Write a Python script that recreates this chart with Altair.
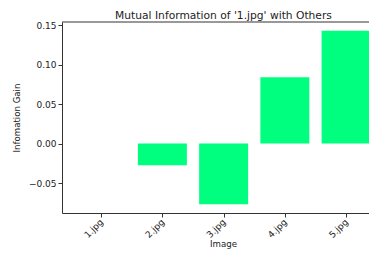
import altair as alt
import pandas as pd

categories = ["1.jpg", "2.jpg", "3.jpg", "4.jpg", "5.jpg"]
values = [0.0, -0.0275, -0.077, 0.0840, 0.1428]

df = pd.DataFrame({"image": categories, "gain": values, "idx": list(range(len(categories)))})

W, H = 315, 191
XDOM = [-0.64, 4.505]
YDOM = [-0.088, 0.154]
FONT = "DejaVu Sans"

label_expr = "[" + ",".join("'%s'" % c for c in categories) + "][datum.value]"

base = alt.Chart(df)

bars = base.mark_bar(color="#00FF7F", clip=True).transform_calculate(
    x0="datum.idx - 0.4", x1="datum.idx + 0.4"
).encode(
    x=alt.X("x0:Q", scale=alt.Scale(domain=XDOM, nice=False, zero=False),
            axis=alt.Axis(values=list(range(len(categories))), labelExpr=label_expr,
                          labelAngle=-45, labelAlign="right", labelBaseline="middle",
                          title="Image", grid=False, tickSize=4, labelPadding=3,
                          titleX=161, titlePadding=0)),
    x2="x1:Q",
    y=alt.Y("gain:Q", scale=alt.Scale(domain=YDOM, nice=False, zero=False),
            axis=alt.Axis(values=[-0.05, 0.0, 0.05, 0.10, 0.15], format=".2f",
                          title="Infomation Gain", grid=False, tickSize=4,
                          labelPadding=2, titlePadding=7)),
    y2=alt.datum(0),
)

top = base.mark_rule(color="#333", strokeWidth=1).encode(
    x=alt.value(0), x2=alt.value(W), y=alt.value(0)
).transform_filter("datum.idx == 0")

chart = alt.layer(bars, top).properties(
    width=W, height=H,
    title=alt.TitleParams("Mutual Information of '1.jpg' with Others", font=FONT,
                          fontSize=10.7, fontWeight="normal", color="#222", dx=4, offset=-1),
    autosize="none",
    padding={"left": 54, "top": 14, "right": -8, "bottom": 36},
).configure_view(stroke=None).configure_axis(
    labelFont=FONT, titleFont=FONT, labelFontSize=9, titleFontSize=8.6,
    labelColor="#222", titleColor="#222", domainColor="#333", tickColor="#333",
    titleFontWeight="normal",
)

chart.save("out.html", embed_options={"renderer": "svg", "actions": False})
